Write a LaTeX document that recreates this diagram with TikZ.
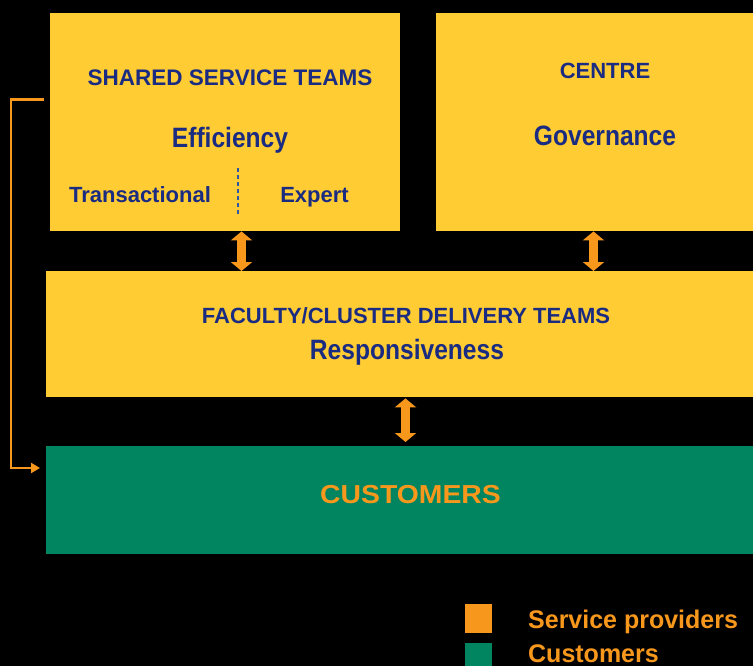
\documentclass[tikz,border=0pt]{standalone}
\usepackage{fontspec}
\usepackage{graphicx}
\setmainfont{Liberation Sans}
\usetikzlibrary{arrows.meta}
\definecolor{boxyellow}{HTML}{FFCC33}
\definecolor{navy}{HTML}{1A2B82}
\definecolor{dashblue}{HTML}{2F55A8}
\definecolor{arrorange}{HTML}{F7981D}
\definecolor{custgreen}{HTML}{008560}
\newcommand\mytxt[3]{\fontsize{#1}{#1}\selectfont\bfseries\scalebox{#2}[1]{#3}}
\tikzset{
  ybox/.style={fill=boxyellow, draw=none, anchor=north west, inner sep=0pt},
  lbl/.style={anchor=base, inner sep=0pt, text=navy},
  dblarrow/.style={draw=arrorange, line width=9.5pt,
     {Triangle[length=9pt,width=21pt]}-{Triangle[length=9pt,width=21pt]}},
  bracketline/.style={draw=arrorange, line width=2.6pt,
     -{Triangle[length=9pt,width=10pt]}},
  legsq/.style={anchor=north west, inner sep=0pt, minimum width=27pt, minimum height=29pt, draw=none}
}
\begin{document}
\begin{tikzpicture}[x=1pt,y=-1pt]
\fill[black] (0,0) rectangle (753,666);
\useasboundingbox (0,0) rectangle (753,666);

% boxes
\node[ybox, minimum width=350pt, minimum height=218pt] (shared) at (50,13) {};
\node[ybox, minimum width=317pt, minimum height=218pt] (centre) at (436,13) {};
\node[ybox, minimum width=707pt, minimum height=126pt] (faculty) at (46,271) {};
\node[anchor=north west, inner sep=0pt, fill=custgreen, minimum width=707pt, minimum height=108pt] (cust) at (46,446) {};

% texts
\node[lbl] (tshared) at (230,86) {\mytxt{22.5}{1}{SHARED SERVICE TEAMS}};
\node[lbl] (teff) at (230,148) {\mytxt{28}{0.878}{Efficiency}};
\node[lbl] (ttrans) at (140,203) {\mytxt{22}{1}{Transactional}};
\node[lbl] (texp) at (314.5,203) {\mytxt{22}{1}{Expert}};
\node[lbl] (tcentre) at (605,79) {\mytxt{22}{1}{CENTRE}};
\node[lbl] (tgov) at (605,146) {\mytxt{28}{0.878}{Governance}};
\node[lbl] (tfac) at (406,323) {\mytxt{22}{1}{FACULTY/CLUSTER DELIVERY TEAMS}};
\node[lbl] (tresp) at (407,359) {\mytxt{28}{0.878}{Responsiveness}};
\node[lbl, text=arrorange] (tcust) at (410.5,503) {\mytxt{26}{1.09}{CUSTOMERS}};

% dashed divider
\coordinate (dtop) at (238,168);
\coordinate (dbot) at (238,214);
\draw[dashblue, line width=1.3pt, dash pattern=on 4pt off 3pt] (dtop) -- (dbot);

% double arrows
\coordinate (ax1) at (241.5,0);
\coordinate (ax2) at (593.5,0);
\coordinate (ax3) at (405.5,0);
\draw[dblarrow] (shared.south -| ax1) -- (faculty.north -| ax1);
\draw[dblarrow] (centre.south -| ax2) -- (faculty.north -| ax2);
\draw[dblarrow] ([yshift=-1pt]faculty.south -| ax3) -- ([yshift=4pt]cust.north -| ax3);

% bracket connector
\coordinate (bt) at (44,99.5);
\coordinate (bl) at (11,468);
\coordinate (bb) at (40,468);
\draw[bracketline] (bt) -| (bl) -- (bb);

% legend
\node[legsq, fill=arrorange] (lsq1) at (465,604) {};
\node[legsq, fill=custgreen] (lsq2) at (465,643) {};
\node[anchor=base west, inner sep=0pt, text=arrorange] (lt1) at (528,628) {\mytxt{25.5}{0.98}{Service providers}};
\node[anchor=base west, inner sep=0pt, text=arrorange] (lt2) at (528,662) {\mytxt{25.5}{0.98}{Customers}};
\end{tikzpicture}
\end{document}
